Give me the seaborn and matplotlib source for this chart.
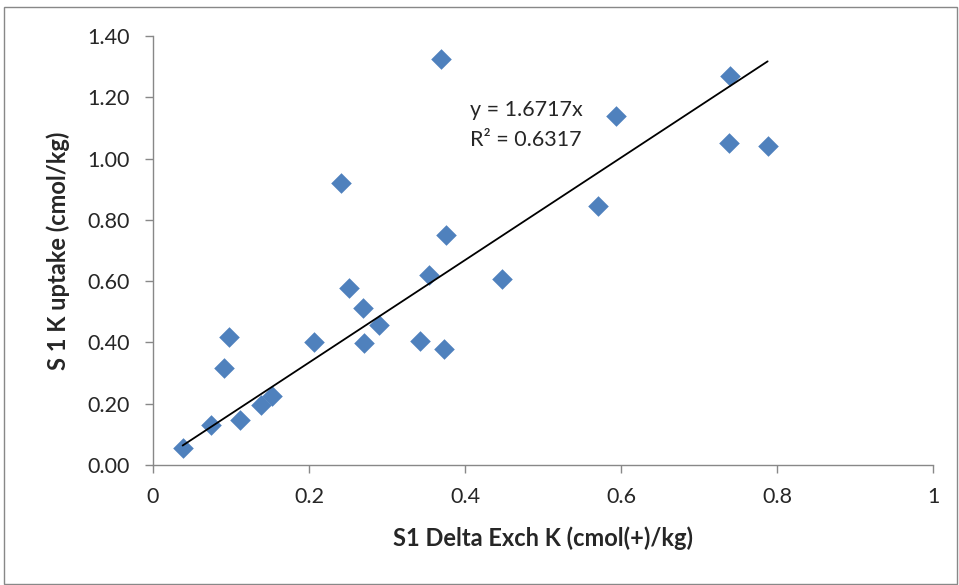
import numpy as np
import pandas as pd
import matplotlib
matplotlib.use("Agg")
import matplotlib.pyplot as plt
import seaborn as sns
from matplotlib.patches import Rectangle

delta_exch_k = [0.038, 0.074, 0.112, 0.091, 0.097, 0.139, 0.152, 0.206, 0.241, 0.251,
                0.269, 0.271, 0.290, 0.342, 0.354, 0.369, 0.376, 0.373, 0.447, 0.571,
                0.594, 0.740, 0.738, 0.788]
k_uptake = [0.055, 0.13, 0.148, 0.317, 0.418, 0.195, 0.224, 0.402, 0.92, 0.577,
            0.512, 0.399, 0.456, 0.405, 0.619, 1.325, 0.75, 0.379, 0.606, 0.846,
            1.14, 1.268, 1.052, 1.04]
slope = 1.6717
r2 = 0.6317
x_ticks = [0, 0.2, 0.4, 0.6, 0.8, 1]
y_ticks = [0.0, 0.2, 0.4, 0.6, 0.8, 1.0, 1.2, 1.4]

df = pd.DataFrame({"x": delta_exch_k, "y": k_uptake})

sns.set_style("white")
plt.rcParams['font.family'] = ['Lato', 'DejaVu Sans']

fig = plt.figure(figsize=(9.59, 5.85), dpi=100)
ax = fig.add_axes([153/959, 1-465/585, (933-153)/959, (465-36)/585])

sns.scatterplot(data=df, x="x", y="y", ax=ax, marker="D", s=110,
                color="#4F81BD", edgecolor="#4F81BD", linewidth=0, zorder=3)

xl = np.array([min(delta_exch_k), max(delta_exch_k)])
ax.plot(xl, slope * xl, color="black", lw=1.3, zorder=4)

ax.text(0.406, 1.160, f"y = {slope}x", fontsize=15.5, ha="left", va="center")
ax.text(0.406, 1.060, f"R² = {r2}", fontsize=15.5, ha="left", va="center")

ax.set_xlim(0, 1)
ax.set_ylim(0, 1.4)
ax.set_xticks(x_ticks)
ax.set_xticklabels([f"{t:g}" for t in x_ticks])
ax.set_yticks(y_ticks)
ax.set_yticklabels([f"{t:.2f}" for t in y_ticks])
ax.tick_params(axis="both", labelsize=15.5, length=6, width=1, color="#888888",
               direction="out", bottom=True, left=True)
ax.tick_params(axis="x", pad=10)
ax.tick_params(axis="y", pad=11)
for s in ["top", "right"]:
    ax.spines[s].set_visible(False)
for s in ["left", "bottom"]:
    ax.spines[s].set_color("#888888")
    ax.spines[s].set_linewidth(1)

ax.set_xlabel("S1 Delta Exch K (cmol(+)/kg)", fontsize=17, fontweight="bold", labelpad=14)
ax.set_ylabel("S 1 K uptake (cmol/kg)", fontsize=17, fontweight="bold", labelpad=12)

fig.patches.append(Rectangle((4/959, 0.002), 1 - 6/959, 1 - 7/585 - 0.002,
                             transform=fig.transFigure, fill=False,
                             edgecolor="#888888", lw=1))

fig.savefig("out.png", dpi=100)
